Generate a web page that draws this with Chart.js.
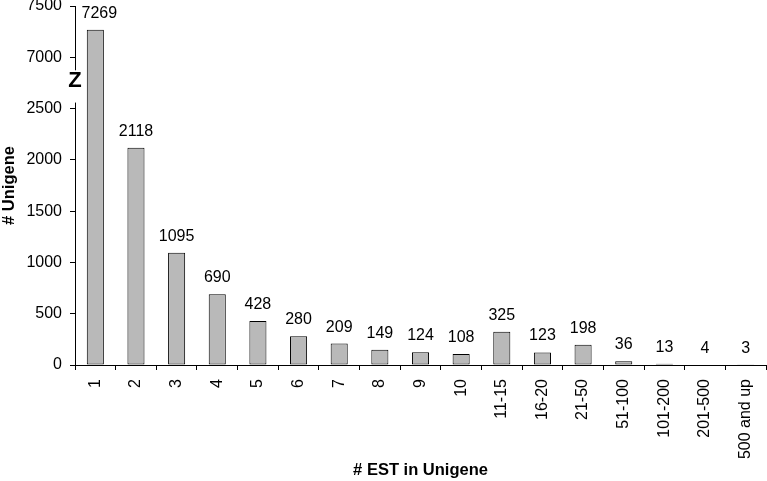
<!DOCTYPE html>
<html>
<head>
<meta charset="utf-8">
<script src="https://cdn.jsdelivr.net/npm/chart.js@4/dist/chart.umd.min.js"></script>
<style>
  html, body { margin: 0; padding: 0; background: #fff; }
  #wrap { width: 767px; height: 481px; }
</style>
</head>
<body>
<div id="wrap"><canvas id="myChart" width="767" height="481"></canvas></div>
<script>
// data
const categories = ["1", "2", "3", "4", "5", "6", "7", "8", "9", "10",
  "11-15", "16-20", "21-50", "51-100", "101-200", "201-500", "500 and up"];
const unigeneCounts = [7269, 2118, 1095, 690, 428, 280, 209, 149, 124, 108,
  325, 123, 198, 36, 13, 4, 3];
const yTickValues = [0, 500, 1000, 1500, 2000, 2500, 7000, 7500];

// the y axis is broken between 2500 and 7000 (one tick step wide)
const breakFrom = 2500;
const breakTo = 7000;
const breakStep = 500;

function squeeze(v) {
  if (v <= breakFrom) return v;
  if (v >= breakTo) return v - (breakTo - breakFrom) + breakStep;
  return breakFrom + (v - breakFrom) / (breakTo - breakFrom) * breakStep;
}
function unsqueeze(v) {
  if (v <= breakFrom) return v;
  if (v >= breakFrom + breakStep) return v + (breakTo - breakFrom) - breakStep;
  return breakFrom + (v - breakFrom) / breakStep * (breakTo - breakFrom);
}

//linear scale with a gap in it
class BrokenScale extends Chart.LinearScale {
  configure() {
    super.configure();
    this._startValue = squeeze(this.min);
    this._endValue = squeeze(this.max);
    this._valueRange = this._endValue - this._startValue;
  }
  buildTicks() {
    return yTickValues.map((v) => ({ value: v }));
  }
  getPixelForValue(v) {
    return super.getPixelForValue(squeeze(v));
  }
  getValueForPixel(p) {
    return unsqueeze(super.getValueForPixel(p));
  }
}
BrokenScale.id = "broken";
BrokenScale.defaults = Chart.LinearScale.defaults;
Chart.register(BrokenScale);

// numbers above the bars
const barLabels = {
  id: "barLabels",
  afterDatasetsDraw(chart) {
    const ctx = chart.ctx;
    const meta = chart.getDatasetMeta(0);
    ctx.save();
    ctx.font = "16px 'Liberation Sans', Arial, sans-serif";
    ctx.fillStyle = "#000";
    ctx.textAlign = "center";
    ctx.textBaseline = "alphabetic";
    meta.data.forEach((bar, i) => {
      // first label sits a bit right so it clears the axis
      const dx = i === 0 ? 4 : 0;
      ctx.fillText(String(unigeneCounts[i]), bar.x + dx, Math.min(bar.y, bar.base) - 12);
    });
    ctx.restore();
  },
};

// the "Z" mark where the axis is cut
const axisBreak = {
  id: "axisBreak",
  afterDraw(chart) {
    const ctx = chart.ctx;
    const y = chart.scales.y;
    const x = y.right;
    const yTop = y.getPixelForValue(breakTo) + 13;
    const yBot = y.getPixelForValue(breakFrom) - 6;
    ctx.save();
    ctx.fillStyle = "#fff";
    ctx.fillRect(x - 3, yTop, 6, yBot - yTop);
    ctx.fillStyle = "#000";
    ctx.font = "bold 22px 'Liberation Sans', Arial, sans-serif";
    ctx.textAlign = "center";
    ctx.textBaseline = "middle";
    ctx.fillText("Z", x, (y.getPixelForValue(breakTo) + y.getPixelForValue(breakFrom)) / 2 - 2);
    ctx.restore();
  },
};

Chart.defaults.font.family = "'Liberation Sans', Arial, sans-serif";
Chart.defaults.color = "#000";

const ctx = document.getElementById("myChart").getContext("2d");

const chartConfig = {
  type: "bar",
  data: {
    labels: categories,
    datasets: [
      {
        label: "# Unigene",
        data: unigeneCounts,
        backgroundColor: "#b9b9b9",
        borderColor: "#000",
        borderWidth: 1,
        borderSkipped: false,
        barPercentage: 0.42,
        categoryPercentage: 1,
      },
    ],
  },
  options: {
    responsive: false,
    animation: false,
    layout: { padding: { top: 6, right: 1, left: 0, bottom: 0 } },
    plugins: {
      legend: { display: false },
      tooltip: { enabled: false },
    },
    scales: {
      x: {
        grid: {
          offset: true,
          drawOnChartArea: false,
          drawTicks: true,
          tickLength: 5,
          color: "#000",
        },
        border: { display: true, color: "#000", width: 1 },
        ticks: {
          minRotation: 90,
          maxRotation: 90,
          autoSkip: false,
          padding: 9,
          font: { size: 16 },
        },
        title: {
          display: true,
          text: "# EST in Unigene",
          font: { size: 16.5, weight: "bold" },
          padding: { top: 0, bottom: 1 },
        },
        afterFit(scale) {
          scale.height = 116;
          scale.paddingLeft = 0;
          scale.paddingRight = 0;
        },
      },
      y: {
        type: "broken",
        min: 0,
        max: 7500,
        grid: {
          drawOnChartArea: false,
          drawTicks: true,
          tickLength: 5,
          color: "#000",
        },
        border: { display: true, color: "#000", width: 1 },
        ticks: {
          autoSkip: false,
          padding: 8,
          font: { size: 16 },
          callback: (value) => String(value),
        },
        title: {
          display: true,
          text: "# Unigene",
          font: { size: 16.5, weight: "bold" },
          padding: { top: 0, bottom: 0 },
        },
        afterFit(scale) {
          scale.width = 75;
          scale.paddingTop = 0;
          scale.paddingBottom = 0;
        },
      },
    },
  },
  plugins: [barLabels, axisBreak],
};

const unigeneChart = new Chart(ctx, chartConfig);
</script>
</body>
</html>
